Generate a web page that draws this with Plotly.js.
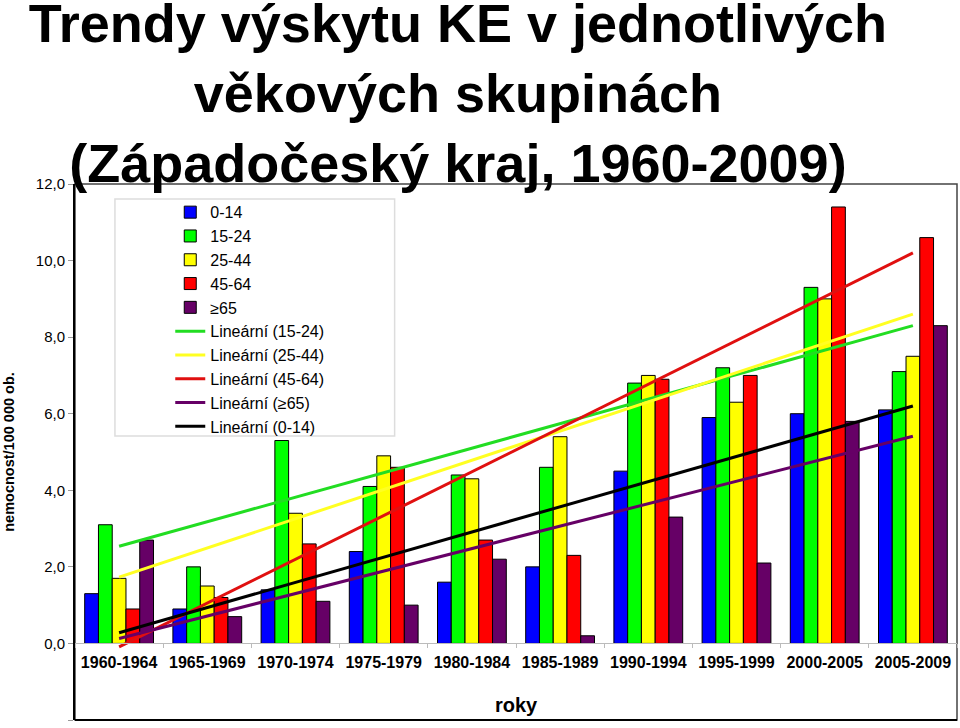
<!DOCTYPE html>
<html>
<head>
<meta charset="utf-8">
<script src="https://cdn.plot.ly/plotly-3.0.1.min.js"></script>
<style>html,body{margin:0;padding:0;background:#fff;}#chart{width:960px;height:728px;}</style>
</head>
<body>
<div id="chart"></div>
<script>
// Categories (five-year periods)
const periods = ['1960-1964','1965-1969','1970-1974','1975-1979','1980-1984','1985-1989','1990-1994','1995-1999','2000-2005','2005-2009'];

// Incidence per 100 000 inhabitants, by age group
const age0_14  = [1.3, 0.9, 1.4, 2.4, 1.6, 2.0, 4.5, 5.9, 6.0, 6.1];
const age15_24 = [3.1, 2.0, 5.3, 4.1, 4.4, 4.6, 6.8, 7.2, 9.3, 7.1];
const age25_44 = [1.7, 1.5, 3.4, 4.9, 4.3, 5.4, 7.0, 6.3, 9.0, 7.5];
const age45_64 = [0.9, 1.2, 2.6, 4.6, 2.7, 2.3, 6.9, 7.0, 11.4, 10.6];
const age65    = [2.7, 0.7, 1.1, 1.0, 2.2, 0.2, 3.3, 2.1, 5.8, 8.3];

// Linear trendline end values (first period, last period)
const trend15_24 = [2.54, 8.30];
const trend25_44 = [1.73, 8.60];
const trend45_64 = [-0.09, 10.20];
const trend65    = [0.13, 5.41];
const trend0_14  = [0.28, 6.20];

const seriesNames = ['0-14','15-24','25-44','45-64','\u226565'];
const barColors = ['#0000FF','#00FF00','#FFFF00','#FF0000','#660066'];
const barData = [age0_14, age15_24, age25_44, age45_64, age65];

const traces = [];
barData.forEach((vals, i) => {
  traces.push({
    type: 'bar', name: seriesNames[i], x: periods, y: vals,
    marker: {color: barColors[i], line: {color: '#000', width: 1}},
    hoverinfo: 'x+y+name'
  });
});

const trendEnds = [periods[0], periods[periods.length - 1]];
const trends = [
  {name: 'Line\u00e1rn\u00ed (15-24)', y: trend15_24, color: '#22DD22'},
  {name: 'Line\u00e1rn\u00ed (25-44)', y: trend25_44, color: '#FFFF22'},
  {name: 'Line\u00e1rn\u00ed (45-64)', y: trend45_64, color: '#E01010'},
  {name: 'Line\u00e1rn\u00ed (\u226565)', y: trend65, color: '#660066'},
  {name: 'Line\u00e1rn\u00ed (0-14)', y: trend0_14, color: '#000000'}
];
trends.forEach(t => {
  traces.push({
    type: 'scatter', mode: 'lines', name: t.name, x: trendEnds, y: t.y,
    line: {color: t.color, width: 3}
  });
});

const font = 'Liberation Sans, Arial, sans-serif';

const layout = {
  width: 960, height: 728,
  margin: {l: 75, r: 3, t: 184, b: 8},
  paper_bgcolor: '#fff', plot_bgcolor: '#fff',
  separators: ', ',
  font: {family: font, color: '#000'},
  title: {
    text: 'Trendy výskytu KE v jednotlivých<br>věkových skupinách<br>(Západočeský kraj, 1960-2009)',
    font: {family: font, size: 54, weight: 'bold', color: '#000'},
    x: 0.477, xref: 'container', xanchor: 'center',
    y: 1 - 42/728, yref: 'container', yanchor: 'middle'
  },
  barmode: 'group', bargap: 0.22, bargroupgap: 0,
  showlegend: true,
  legend: {
    x: 0.108, y: 0.979, xanchor: 'left', yanchor: 'top',
    bgcolor: 'rgba(0,0,0,0)', borderwidth: 0,
    font: {family: font, size: 16, color: '#000'},
    tracegroupgap: 0
  },
  xaxis: {
    type: 'category', anchor: 'free', position: 2/14,
    showline: true, linecolor: '#BBBBBB', linewidth: 1,
    ticks: 'outside', tickson: 'boundaries', ticklen: 4, tickcolor: '#BBBBBB',
    ticklabelstandoff: 4,
    tickfont: {family: font, size: 16, weight: 'bold', color: '#000'},
    showgrid: false, zeroline: false, fixedrange: true
  },
  yaxis: {
    range: [-2, 12], dtick: 2, tick0: 0, tickformat: '.1f',
    showline: true, linecolor: '#000', linewidth: 2,
    ticks: 'outside', ticklen: 5, tickcolor: '#999',
    tickfont: {family: font, size: 15, color: '#000'},
    showgrid: false, zeroline: false,
    title: {text: 'nemocnost/100 000 ob.', font: {family: font, size: 14.5, weight: 'bold', color: '#000'}, standoff: 18}
  },
  shapes: [
    {type: 'rect', xref: 'paper', yref: 'paper', x0: 0, x1: 1, y0: 0, y1: 1,
     line: {color: '#444', width: 1.5}, layer: 'below'},
    {type: 'line', xref: 'paper', yref: 'paper', x0: 0, x1: 1, y0: 0, y1: 0,
     line: {color: '#000', width: 2}},
    {type: 'rect', xref: 'paper', yref: 'paper', x0: 40/883, x1: 320/883, y0: 1 - 15/536, y1: 1 - 252/536,
     line: {color: '#DDDDDD', width: 1.5}, fillcolor: '#FFFFFF', layer: 'below'}
  ],
  annotations: [
    {text: 'roky', xref: 'paper', yref: 'paper', x: 0.5, y: 15/536, xanchor: 'center', yanchor: 'middle',
     showarrow: false, font: {family: font, size: 20, weight: 'bold', color: '#000'}}
  ]
};

Plotly.newPlot('chart', traces, layout, {displayModeBar: false, staticPlot: true});
</script>
</body>
</html>
